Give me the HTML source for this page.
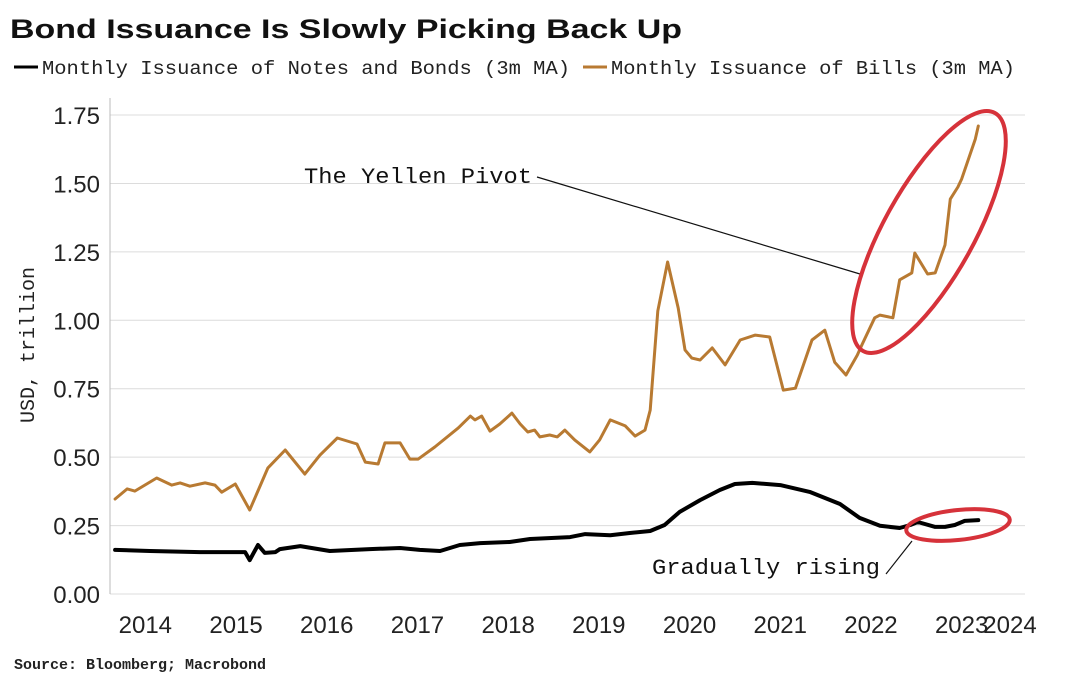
<!DOCTYPE html>
<html><head><meta charset="utf-8"><style>
html,body{margin:0;padding:0;background:#fff}
svg{display:block}
text{font-family:"Liberation Sans",sans-serif}
.mono{font-family:"Liberation Mono",monospace}
</style></head><body>
<svg id="chart" width="1080" height="686" viewBox="0 0 1080 686">
<text x="10" y="38" font-size="27" font-weight="bold" fill="#111" textLength="672" lengthAdjust="spacingAndGlyphs">Bond Issuance Is Slowly Picking Back Up</text>
<g>
<line x1="14" y1="67" x2="38" y2="67" stroke="#000" stroke-width="3"/>
<text class="mono" x="42" y="74" font-size="19" fill="#222" textLength="528" lengthAdjust="spacingAndGlyphs">Monthly Issuance of Notes and Bonds (3m MA)</text>
<line x1="583" y1="67" x2="607" y2="67" stroke="#b87a32" stroke-width="3"/>
<text class="mono" x="611" y="74" font-size="19" fill="#222" textLength="404" lengthAdjust="spacingAndGlyphs">Monthly Issuance of Bills (3m MA)</text>
</g>
<g id="grid"></g>
<line x1="110" y1="98" x2="110" y2="594" stroke="#bbb" stroke-width="1"/>
<g id="yticks"></g>
<g id="xticks"></g>
<text transform="translate(34,345) rotate(-90)" text-anchor="middle" class="mono" font-size="20" fill="#222">USD, trillion</text>
<g id="series"></g>
<g>
<text class="mono" x="304" y="183" font-size="22" fill="#111" textLength="228" lengthAdjust="spacingAndGlyphs">The Yellen Pivot</text>
<line x1="537" y1="177" x2="860" y2="274" stroke="#111" stroke-width="1.2"/>
<ellipse cx="929" cy="232" rx="136" ry="45" transform="rotate(-61 929 232)" fill="none" stroke="#d6323a" stroke-width="4"/>
</g>
<g>
<text class="mono" x="652" y="574" font-size="22" fill="#111" textLength="228" lengthAdjust="spacingAndGlyphs">Gradually rising</text>
<line x1="886" y1="574" x2="912" y2="541" stroke="#111" stroke-width="1.2"/>
<ellipse cx="958" cy="525" rx="52" ry="15" transform="rotate(-6 958 525)" fill="none" stroke="#d6323a" stroke-width="4"/>
</g>
<text x="14" y="669" font-size="15" font-weight="bold" class="mono" fill="#222">Source: Bloomberg; Macrobond</text>
</svg>
<script>
const yTicks=[0,0.25,0.5,0.75,1.0,1.25,1.5,1.75];
const yTickLabels=["0.00","0.25","0.50","0.75","1.00","1.25","1.50","1.75"];
const xYears=[2014,2015,2016,2017,2018,2019,2020,2021,2022,2023,2024];
// months since Jan 2014
const billsMonths=[2.0,3.6,4.6,7.5,9.5,10.6,11.9,13.9,15.2,16.1,17.9,19.8,22.2,24.5,27.1,29.1,31.4,34.0,35.1,36.8,37.7,39.7,41.0,42.1,44.3,47.4,49.0,49.6,50.5,51.6,52.9,54.5,55.6,56.6,57.5,58.2,59.5,60.5,61.5,62.8,64.8,66.1,67.5,69.5,70.8,72.1,72.8,73.8,75.1,76.5,77.4,78.3,79.4,81.0,82.7,84.7,86.7,88.6,90.4,92.0,94.2,95.9,97.2,98.7,100.2,100.8,102.5,103.2,104.9,105.8,107.4,107.8,109.5,110.5,111.8,112.5,113.5,114.0,115.8,116.2];
const billsValues=[0.347,0.384,0.376,0.424,0.398,0.406,0.394,0.406,0.398,0.372,0.402,0.307,0.46,0.526,0.438,0.507,0.570,0.548,0.482,0.475,0.552,0.552,0.493,0.493,0.537,0.607,0.650,0.636,0.650,0.595,0.621,0.661,0.621,0.592,0.599,0.574,0.581,0.574,0.599,0.563,0.519,0.563,0.636,0.614,0.577,0.599,0.672,1.034,1.213,1.045,0.892,0.862,0.855,0.899,0.837,0.928,0.946,0.939,0.745,0.752,0.928,0.964,0.847,0.800,0.873,0.910,1.009,1.019,1.009,1.148,1.173,1.246,1.169,1.173,1.275,1.443,1.487,1.516,1.662,1.71];
const notesMonths=[2.0,6.6,13.2,19.2,19.8,20.9,21.8,23.2,23.8,26.5,30.4,35.7,39.7,42.3,45.0,47.6,50.3,54.2,56.9,62.2,64.2,67.5,70.1,72.8,74.7,76.7,79.4,82.0,84.0,86.3,90.0,93.9,97.9,100.5,103.2,105.8,107.2,108.2,110.5,111.8,113.1,114.4,116.2];
const notesValues=[0.161,0.157,0.153,0.153,0.124,0.179,0.150,0.153,0.164,0.175,0.157,0.164,0.168,0.161,0.157,0.179,0.186,0.190,0.201,0.208,0.219,0.215,0.223,0.230,0.252,0.300,0.343,0.380,0.402,0.406,0.398,0.373,0.329,0.278,0.249,0.241,0.252,0.263,0.245,0.245,0.252,0.267,0.270];

const NS="http://www.w3.org/2000/svg";
const X0=100, PXYEAR=90.7, Y0=594, PXUNIT=273.7;
function xScale(m){return X0+m/12*PXYEAR;}
function yScale(v){return Y0-v*PXUNIT;}
function mk(tag,attrs,parent){const e=document.createElementNS(NS,tag);for(const k in attrs)e.setAttribute(k,attrs[k]);parent.appendChild(e);return e;}

const grid=document.getElementById('grid'), yt=document.getElementById('yticks'), xt=document.getElementById('xticks'), ser=document.getElementById('series');
yTicks.forEach((v,i)=>{
  if(v>0){const g=mk('line',{x1:110,x2:1025,y1:yScale(v),y2:yScale(v),stroke:'#dcdcdc','stroke-width':1},grid);
  
  }
  const t=mk('text',{x:100,y:yScale(v)+9,'text-anchor':'end','font-size':24,fill:'#222'},yt);
  t.textContent=yTickLabels[i];
  
  
});
const base=mk('line',{x1:110,x2:1025,y1:Y0,y2:Y0,stroke:'#dcdcdc','stroke-width':1},grid);


xYears.forEach((yr,i)=>{
  let m=(yr-2014)*12+6;
  let x=xScale(m);
  if(yr===2024)x=1010;
  const t=mk('text',{x:x,y:633,'text-anchor':'middle','font-size':24,fill:'#222'},xt);
  t.textContent=String(yr);
  
  
});
function line(ms,vs,color,w,name){
  const d=ms.map((m,i)=>(i?'L':'M')+xScale(m).toFixed(1)+','+yScale(vs[i]).toFixed(1)).join(' ');
  const p=mk('path',{d:d,fill:'none',stroke:color,'stroke-width':w,'stroke-linejoin':'round','stroke-linecap':'round'},ser);
  
  
}
line(billsMonths,billsValues,'#b87a32',3,'bills-line');
line(notesMonths,notesValues,'#000',4,'notes-bonds-line');
</script>
</body></html>
